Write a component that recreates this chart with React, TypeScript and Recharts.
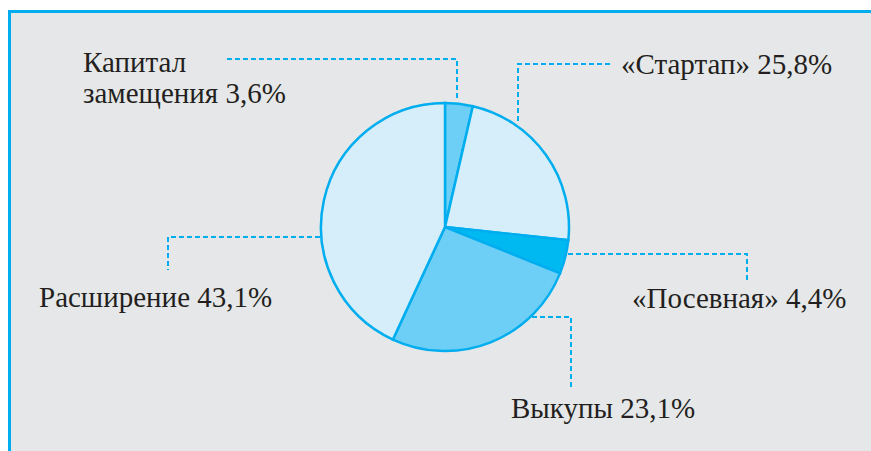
import React from 'react';
import { PieChart, Pie, Cell } from 'recharts';

// Slice sizes as drawn in the picture (clockwise from 12 o'clock)
const categories = ['Капитал замещения', '«Стартап»', '«Посевная»', 'Выкупы', 'Расширение'];
const sliceValues = [3.6, 23.1, 4.4, 25.8, 43.1];
const labelPercents = ['3,6%', '25,8%', '4,4%', '23,1%', '43,1%'];

const fills = ['#6dcff6', '#d5eefa', '#00b9f0', '#6dcff6', '#d5eefa'];
const BLUE = '#00aeef';
const FONT = 'Liberation Serif, DejaVu Serif, Times New Roman, serif';
const FS = 29;

const data = categories.map((name, i) => ({ name, value: sliceValues[i] }));

// label layout relative to pie centre: text lines [dx, dy], leader polyline points
const layout = [
  { text: [['Капитал', -362, -155], ['замещения ' + labelPercents[0], -362, -124]], line: [[-218, -168], [12, -168], [12, -128]] },
  { text: [[categories[1] + ' ' + labelPercents[1], 176, -153]], line: [[165, -163], [73, -163], [73, -105]] },
  { text: [[categories[2] + ' ' + labelPercents[2], 187, 81]], line: [[123, 27], [302, 27], [302, 56]] },
  { text: [[categories[3] + ' ' + labelPercents[3], 66, 191]], line: [[87, 90], [126, 90], [126, 160]] },
  { text: [[categories[4] + ' ' + labelPercents[4], -406, 80]], line: [[-125, 10], [-277, 10], [-277, 43]] },
];

const renderLabel = (props: any) => {
  const { cx, cy, index } = props;
  const l = layout[index];
  const pts = l.line.map((p: number[]) => `${cx + p[0]},${cy + p[1]}`).join(' ');
  return (
    <g key={`lbl-${index}`}>
      <polyline points={pts} fill="none" stroke={BLUE} strokeWidth={2} strokeDasharray="5 3" />
      {l.text.map((t: any, j: number) => (
        <text key={j} x={cx + t[1]} y={cy + t[2]} fill="#231f20" style={{ fontFamily: FONT, fontSize: FS }} textAnchor="start">
          {t[0]}
        </text>
      ))}
    </g>
  );
};

export default function App() {
  return (
    <div style={{ position: 'fixed', left: 0, top: 0, width: 871, height: 451, background: '#ffffff', fontFamily: FONT }}>
      <div style={{ position: 'absolute', left: 8, top: 10, width: 863, height: 441, background: '#e6e7e8', borderTop: `3px solid ${BLUE}`, borderLeft: `3px solid ${BLUE}`, boxSizing: 'border-box' }} />
      <div style={{ position: 'absolute', left: 0, top: 0 }}>
        <PieChart width={871} height={451} margin={{ top: 0, right: 0, bottom: 0, left: 0 }}>
          <Pie
            data={data}
            dataKey="value"
            cx={445}
            cy={227}
            outerRadius={124}
            startAngle={90}
            endAngle={-270}
            stroke={BLUE}
            strokeWidth={2.5}
            label={renderLabel}
            labelLine={false}
            isAnimationActive={false}
          >
            {data.map((d, i) => (
              <Cell key={d.name} fill={fills[i]} />
            ))}
          </Pie>
        </PieChart>
      </div>
    </div>
  );
}
